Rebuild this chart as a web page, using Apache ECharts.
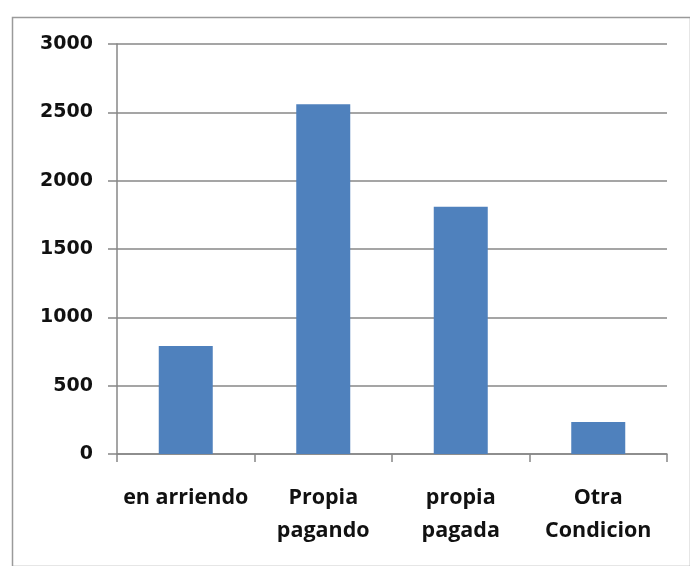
<!DOCTYPE html>
<html>
<head>
<meta charset="utf-8">
<script src="https://cdn.jsdelivr.net/npm/echarts@6/dist/echarts.min.js"></script>
<style>
  html, body { margin: 0; padding: 0; background: #ffffff; }
  #chart { width: 690px; height: 566px; }
</style>
</head>
<body>
<div id="chart"></div>
<script>
// Housing tenure categories and counts
const categories = ['en arriendo', 'Propia\npagando', 'propia\npagada', 'Otra\nCondicion'];
const counts = [790, 2560, 1810, 235];
const yTicks = { min: 0, max: 3000, step: 500 };

const gray = '#878787';
const chart = echarts.init(document.getElementById('chart'), null, { renderer: 'canvas' });

chart.setOption({
  animation: false,
  backgroundColor: '#ffffff',
  graphic: [{
    type: 'rect',
    left: 10, top: 15,
    shape: { width: 678, height: 549 },
    style: { fill: 'none', stroke: '#9a9a9a', lineWidth: 1.5 },
    silent: true
  }],
  grid: { left: 117, right: 23, top: 44, bottom: 112, containLabel: false },
  xAxis: {
    type: 'category',
    data: categories,
    axisLine: { lineStyle: { color: gray, width: 1.5 } },
    axisTick: { show: true, length: 8, lineStyle: { color: gray, width: 1.5 } },
    axisLabel: {
      interval: 0,
      margin: 27,
      color: '#111111',
      fontFamily: 'Open Sans',
      fontWeight: 'bold',
      fontSize: 21.5,
      lineHeight: 33
    }
  },
  yAxis: {
    type: 'value',
    min: yTicks.min,
    max: yTicks.max,
    interval: yTicks.step,
    axisLine: { show: true, lineStyle: { color: gray, width: 1.5 } },
    axisTick: { show: true, length: 9, lineStyle: { color: gray, width: 1.5 } },
    splitLine: { show: true, lineStyle: { color: gray, width: 1.5 } },
    axisLabel: {
      margin: 24,
      color: '#111111',
      fontFamily: 'DejaVu Sans',
      fontWeight: 'bold',
      fontSize: 19,
      formatter: (v) => String(v)
    }
  },
  series: [{
    type: 'bar',
    data: counts,
    barWidth: 54,
    itemStyle: { color: '#4F81BD' }
  }]
});
</script>
</body>
</html>
